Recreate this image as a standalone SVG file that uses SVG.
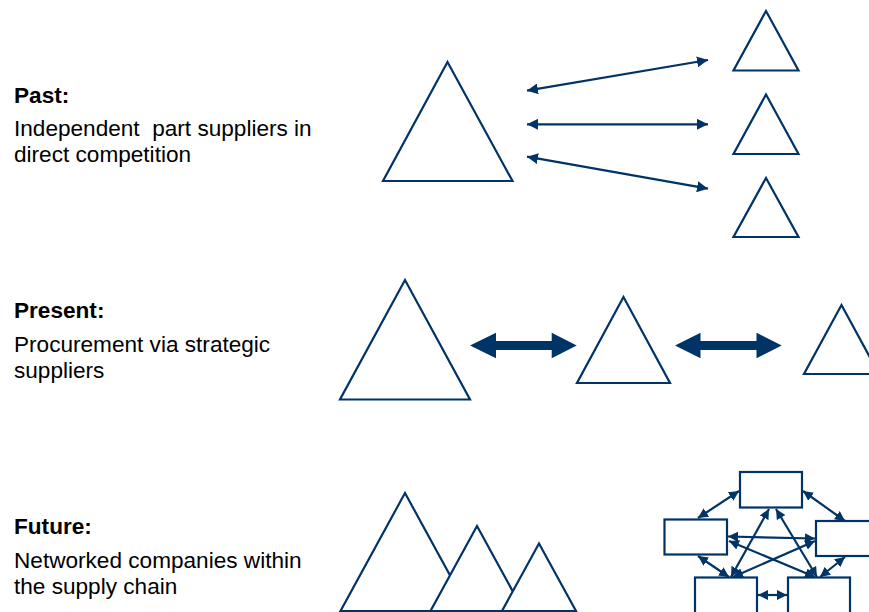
<svg xmlns="http://www.w3.org/2000/svg" width="869" height="612" viewBox="0 0 869 612">
<style>
.lbl{font-family:"Liberation Sans",Arial,sans-serif;font-size:22.6px;fill:#000}
.hd{font-weight:bold}
.tri{fill:#fff;stroke:#003366;stroke-width:2.2;stroke-linejoin:miter}
.box{fill:#fff;stroke:#003366;stroke-width:2.2}
.ln{stroke:#003366;stroke-width:2.2;fill:none}
.big{fill:#003366}
</style>
<defs>
<marker id="ah" markerUnits="userSpaceOnUse" markerWidth="12" markerHeight="11" refX="11" refY="5.5" orient="auto-start-reverse"><path d="M0,0 L11,5.5 L0,11 z" fill="#003366"/></marker>
<marker id="as" markerUnits="userSpaceOnUse" markerWidth="11" markerHeight="10" refX="10" refY="5" orient="auto-start-reverse"><path d="M0,0 L10,5 L0,10 z" fill="#003366"/></marker>
</defs>
<rect width="869" height="612" fill="#fff"/>

<g id="past-label">
<text class="lbl hd" x="14" y="103">Past:</text>
<text class="lbl" x="14" y="136" xml:space="preserve">Independent  part suppliers in</text>
<text class="lbl" x="14" y="162">direct competition</text>
</g>
<g id="present-label">
<text class="lbl hd" x="14" y="318">Present:</text>
<text class="lbl" x="14" y="352">Procurement via strategic</text>
<text class="lbl" x="14" y="378">suppliers</text>
</g>
<g id="future-label">
<text class="lbl hd" x="14" y="534">Future:</text>
<text class="lbl" x="14" y="568">Networked companies within</text>
<text class="lbl" x="14" y="594">the supply chain</text>
</g>

<g id="past-oem"><polygon class="tri" points="447.5,62 383,181 512.5,181"/></g>
<g id="past-supplier-1"><polygon class="tri" points="766,11 733.5,70.5 798.5,70.5"/></g>
<g id="past-supplier-2"><polygon class="tri" points="766,94.5 733.5,154 798.5,154"/></g>
<g id="past-supplier-3"><polygon class="tri" points="766,178 733.5,237 798.5,237"/></g>

<g id="present-oem"><polygon class="tri" points="405,280 340,399.5 470,399.5"/></g>
<g id="present-tier1"><polygon class="tri" points="623.5,297 577,383 670,383"/></g>
<g id="present-tier2"><polygon class="tri" points="841.5,305 804,374 879,374"/></g>

<g id="future-mountains">
<polygon class="tri" points="405,493 340.5,611 469.5,611"/>
<polygon class="tri" points="477,526 430.5,611 523.5,611"/>
<polygon class="tri" points="539,543.5 502,611 576,611"/>
</g>

<g id="net-top"><rect class="box" x="740" y="472" width="62" height="35.5"/></g>
<g id="net-left"><rect class="box" x="664.5" y="519.5" width="62.5" height="35"/></g>
<g id="net-right"><rect class="box" x="816" y="521" width="62" height="35"/></g>
<g id="net-bottom-left"><rect class="box" x="695" y="577.5" width="62" height="40"/></g>
<g id="net-bottom-right"><rect class="box" x="788" y="577.5" width="62" height="40"/></g>

<g id="connectors">
<line class="ln" x1="527" y1="90.7" x2="708" y2="60" marker-start="url(#ah)" marker-end="url(#ah)"/>
<line class="ln" x1="527" y1="124.3" x2="708" y2="124.3" marker-start="url(#ah)" marker-end="url(#ah)"/>
<line class="ln" x1="527" y1="156.7" x2="708" y2="188.7" marker-start="url(#ah)" marker-end="url(#ah)"/>

<path class="big" d="M470,345.5 L496,332.7 L496,341 L551.7,341 L551.7,332.7 L576.7,345.5 L551.7,358.3 L551.7,350 L496,350 L496,358.3 Z"/>
<path class="big" d="M675,345.5 L700.5,332.7 L700.5,341 L756.5,341 L756.5,332.7 L781.7,345.5 L756.5,358.3 L756.5,350 L700.5,350 L700.5,358.3 Z"/>

<line class="ln" x1="698" y1="518" x2="739" y2="491" marker-start="url(#as)" marker-end="url(#as)"/>
<line class="ln" x1="803" y1="491" x2="845" y2="521" marker-start="url(#as)" marker-end="url(#as)"/>
<line class="ln" x1="698" y1="556" x2="729" y2="577" marker-start="url(#as)" marker-end="url(#as)"/>
<line class="ln" x1="845" y1="557" x2="820" y2="577" marker-start="url(#as)" marker-end="url(#as)"/>
<line class="ln" x1="758" y1="595" x2="787" y2="595" marker-start="url(#as)" marker-end="url(#as)"/>
<line class="ln" x1="728" y1="536.5" x2="815" y2="538.5" marker-start="url(#as)" marker-end="url(#as)"/>
<line class="ln" x1="769" y1="509" x2="731" y2="577" marker-start="url(#as)" marker-end="url(#as)"/>
<line class="ln" x1="776" y1="509" x2="817" y2="577" marker-start="url(#as)" marker-end="url(#as)"/>
<line class="ln" x1="729" y1="541" x2="815" y2="577" marker-start="url(#as)" marker-end="url(#as)"/>
<line class="ln" x1="815" y1="541" x2="733" y2="577" marker-start="url(#as)" marker-end="url(#as)"/>
</g>
</svg>
